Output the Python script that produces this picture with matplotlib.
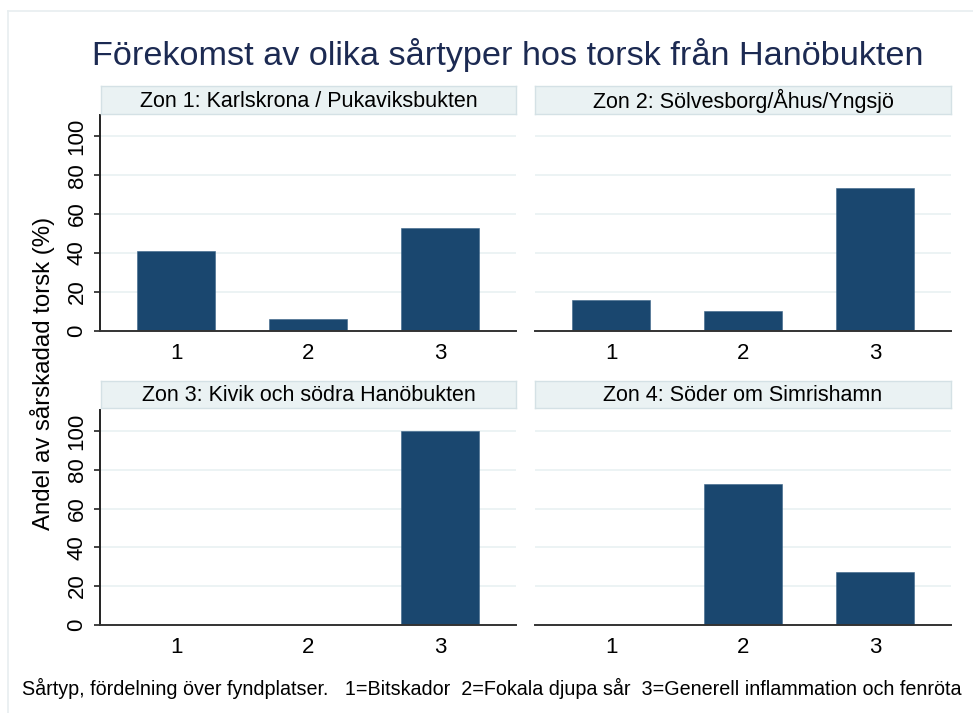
import numpy as np
import matplotlib.pyplot as plt
from matplotlib.lines import Line2D

plt.rcParams['font.family'] = ['Liberation Sans', 'DejaVu Sans']

# data
categories = ['1', '2', '3']
zones = ['Zon 1: Karlskrona / Pukaviksbukten',
         'Zon 2: Sölvesborg/Åhus/Yngsjö',
         'Zon 3: Kivik och södra Hanöbukten',
         'Zon 4: Söder om Simrishamn']
zon1 = [41.2, 5.9, 52.9]
zon2 = [15.6, 10.3, 73.3]
zon3 = [0.0, 0.0, 100.0]
zon4 = [0.0, 72.5, 27.2]
yticks = [0, 20, 40, 60, 80, 100]

barColor = '#1a476f'
gridColor = '#eaf2f3'
stripColor = '#eaf2f3'
stripEdge = '#d4e1e5'
titleColor = '#1c2a52'

tickFontSize = 16
stripFontSize = 15.5

W, H = 973, 713
fig = plt.figure(figsize=(W/100, H/100), dpi=100)
fig.patch.set_facecolor('white')

# light outer frame (top and left edges visible)
fig.add_artist(Line2D([8/W, 8/W], [0, 1-11/H], transform=fig.transFigure, color='#e8eef0', lw=1.2))
fig.add_artist(Line2D([8/W, 1], [1-11/H, 1-11/H], transform=fig.transFigure, color='#e8eef0', lw=1.2))

def px(x0, y0, x1, y1):
    # pixel box -> figure fraction rect
    return [x0/W, 1-y1/H, (x1-x0)/W, (y1-y0)/H]

panels = [(zon1, px(100, 115, 516, 330.7), px(101, 86, 516, 114), True),
          (zon2, px(535, 115, 951, 330.7), px(535, 86, 951, 114), False),
          (zon3, px(100, 410, 516, 624.5), px(101, 381, 516, 408), True),
          (zon4, px(535, 410, 951, 624.5), px(535, 381, 951, 408), False)]

x = np.arange(1, len(categories)+1)
for i, (vals, rect, srect, leftAxis) in enumerate(panels):
    ax = fig.add_axes(rect)
    ax.bar(x, vals, width=0.59, color=barColor, edgecolor='#3a6488', linewidth=0.4, zorder=3)
    ax.set_xlim(1-0.576, 3+0.576)
    ax.set_ylim(0, 111)
    ax.set_yticks(yticks)
    for y in yticks[1:]:
        ax.axhline(y, color=gridColor, lw=1.3, zorder=1)
    ax.set_xticks(x)
    ax.set_xticklabels(categories, fontsize=tickFontSize)
    ax.tick_params(axis='x', length=0, pad=9)
    for s in ['top', 'right']:
        ax.spines[s].set_visible(False)
    ax.spines['bottom'].set_color('#333333')
    ax.spines['bottom'].set_linewidth(1.4)
    ax.spines['bottom'].set_zorder(4)
    if leftAxis:
        ax.spines['left'].set_color('#222222')
        ax.spines['left'].set_linewidth(1.4)
        ax.tick_params(axis='y', length=4, width=1.2, color='#222222', pad=5, labelsize=tickFontSize)
        for lbl in ax.get_yticklabels():
            lbl.set_rotation(90)
            lbl.set_va('center')
    else:
        ax.spines['left'].set_visible(False)
        ax.tick_params(axis='y', left=False, labelleft=False)

    sax = fig.add_axes(srect)
    sax.set_facecolor(stripColor)
    for s in sax.spines.values():
        s.set_color(stripEdge)
        s.set_linewidth(1.0)
    sax.set_xticks([])
    sax.set_yticks([])
    sax.text(0.5, 0.46, zones[i], ha='center', va='center', fontsize=stripFontSize, transform=sax.transAxes)

fig.text(508/W, 1-55/H, 'Förekomst av olika sårtyper hos torsk från Hanöbukten',
         ha='center', va='center', fontsize=24.7, color=titleColor)
fig.text(43/W, 1-373/H, 'Andel av sårskadad torsk (%)', rotation=90,
         ha='center', va='center', fontsize=17.3)
fig.text(22/W, 1-688/H,
         'Sårtyp, fördelning över fyndplatser.   1=Bitskador  2=Fokala djupa sår  3=Generell inflammation och fenröta',
         ha='left', va='center', fontsize=14.2)

plt.savefig('out.png', dpi=100)
